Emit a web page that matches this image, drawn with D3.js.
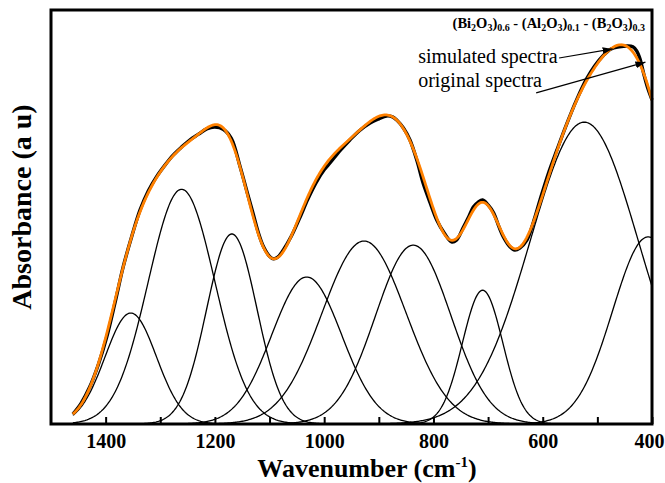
<!DOCTYPE html>
<html>
<head>
<meta charset="utf-8">
<script src="https://cdn.jsdelivr.net/npm/d3@7/dist/d3.min.js"></script>
<style>
  body { margin: 0; background: #ffffff; }
  svg { display: block; font-family: "Liberation Serif", "Times New Roman", serif; }
</style>
</head>
<body>
<div id="chart"></div>
<script>
// fitted gaussian bands (centre in cm-1, height in a.u., sigma in cm-1)
const peakCentres = [1354, 1261, 1169, 1032, 927, 837, 710, 524, 407];
const peakHeights = [0.268, 0.567, 0.459, 0.355, 0.442, 0.432, 0.323, 0.729, 0.452];
const peakSigmas  = [47, 61, 46, 64, 77, 69, 37, 99, 65];

const originalWavenumbers = [1460, 1445, 1429, 1413, 1398, 1383, 1368, 1352, 1337, 1322,
  1307, 1291, 1276, 1261, 1246, 1230, 1215, 1200, 1185, 1170,
  1154, 1140, 1130, 1120, 1111, 1100, 1093, 1085, 1075, 1060,
  1044, 1030, 1014, 1000, 989, 971, 953, 935, 916, 900,
  886, 875, 867, 855, 843, 830, 819, 806, 794, 780,
  767, 758, 745, 735, 727, 718, 710, 700, 690, 680,
  672, 660, 651, 642, 629, 617, 605, 590, 574, 556,
  538, 520, 505, 490, 475, 460, 445, 435, 428, 422,
  415, 408, 400];
const originalAbsorbance = [0.024, 0.050, 0.090, 0.145, 0.210, 0.292, 0.379, 0.454, 0.517, 0.563,
  0.597, 0.626, 0.650, 0.669, 0.686, 0.700, 0.713, 0.717, 0.712, 0.690,
  0.622, 0.555, 0.508, 0.460, 0.428, 0.405, 0.399, 0.403, 0.420, 0.454,
  0.500, 0.543, 0.585, 0.614, 0.631, 0.660, 0.686, 0.709, 0.727, 0.737,
  0.744, 0.742, 0.734, 0.715, 0.686, 0.635, 0.582, 0.534, 0.493, 0.461,
  0.440, 0.444, 0.476, 0.502, 0.524, 0.536, 0.541, 0.529, 0.510, 0.476,
  0.452, 0.428, 0.420, 0.425, 0.444, 0.488, 0.541, 0.604, 0.662, 0.725,
  0.783, 0.833, 0.865, 0.889, 0.906, 0.911, 0.913, 0.911, 0.901, 0.882,
  0.845, 0.812, 0.783];

const xTickValues = [1400, 1300, 1200, 1100, 1000, 900, 800, 700, 600, 500, 400];
const sampleName = [["(Bi", 0], ["2", 1], ["O", 0], ["3", 1], [")", 0], ["0.6", 1],
  [" - (Al", 0], ["2", 1], ["O", 0], ["3", 1], [")", 0], ["0.1", 1],
  [" - (B", 0], ["2", 1], ["O", 0], ["3", 1], [")", 0], ["0.3", 1]];

// set the dimensions of the frame
let width = 665, height = 483;
let frame = {left: 51, top: 10, right: 652, bottom: 424};

let svg = d3.select("#chart")
  .append("svg")
    .attr("width", width)
    .attr("height", height);

// wavenumber runs from high to low
const X_SCALE = d3.scaleLinear()
  .domain([1500, 400])
  .range([frame.left, frame.right]);

const Y_SCALE = d3.scaleLinear()
  .domain([0, 1])
  .range([frame.bottom, frame.top]);

// wavenumber grid on which the fitted bands are evaluated
const grid = d3.range(1460, 399, -2);

function gauss(i, w) {
  let d = w - peakCentres[i];
  return peakHeights[i] * Math.exp(-(d * d) / (2 * peakSigmas[i] * peakSigmas[i]));
}

const line = d3.line()
  .x(d => X_SCALE(d[0]))
  .y(d => Y_SCALE(d[1]));

// component bands
svg.append("g")
  .selectAll("path")
  .data(peakCentres)
  .enter()
  .append("path")
    .attr("d", (c, i) => line(grid.map(w => [w, gauss(i, w)])))
    .attr("fill", "none")
    .attr("stroke", "#000")
    .attr("stroke-width", 1.3);

// original spectrum
let original = originalWavenumbers.map((w, i) => [w, originalAbsorbance[i]]);
svg.append("path")
  .attr("d", line.curve(d3.curveCatmullRom)(original))
  .attr("fill", "none")
  .attr("stroke", "#000")
  .attr("stroke-width", 3.4);

// simulated spectrum = sum of the bands
let simulated = grid.map(w => [w, d3.sum(peakCentres, (c, i) => gauss(i, w))]);
svg.append("path")
  .attr("d", line.curve(d3.curveLinear)(simulated))
  .attr("fill", "none")
  .attr("stroke", "#ff8000")
  .attr("stroke-width", 2.8)
  .attr("stroke-linejoin", "round");

// x axis with inward ticks
let xAxis = svg.append("g")
  .attr("transform", "translate(0," + frame.bottom + ")")
  .call(d3.axisBottom(X_SCALE)
    .tickValues(xTickValues)
    .tickSize(-7)
    .tickPadding(10)
    .tickFormat(d => d % 200 === 0 ? d : ""));
xAxis.select(".domain").remove();
xAxis.selectAll(".tick line").attr("stroke", "#000").attr("stroke-width", 2);
xAxis.selectAll(".tick text")
  .attr("font-family", "Liberation Serif, Times New Roman, serif")
  .attr("font-weight", "bold")
  .attr("font-size", 20)
  .attr("fill", "#000")
  .attr("dx", d => d === 400 ? -3 : 0);

// frame
svg.append("rect")
  .attr("x", frame.left)
  .attr("y", frame.top)
  .attr("width", frame.right - frame.left)
  .attr("height", frame.bottom - frame.top)
  .attr("fill", "none")
  .attr("stroke", "#000")
  .attr("stroke-width", 3);

// axis titles
let xTitle = svg.append("text")
  .attr("x", 367)
  .attr("y", 477)
  .attr("text-anchor", "middle")
  .attr("font-weight", "bold")
  .attr("font-size", 26)
  .text("Wavenumber (cm");
xTitle.append("tspan").attr("font-size", 15).attr("dy", -10).text("-1");
xTitle.append("tspan").attr("dy", 10).text(")");

svg.append("text")
  .attr("transform", "translate(31,207) rotate(-90)")
  .attr("text-anchor", "middle")
  .attr("font-weight", "bold")
  .attr("font-size", 28)
  .text("Absorbance (a u)");

// sample name, top right
let title = svg.append("text")
  .attr("x", 645)
  .attr("y", 28)
  .attr("text-anchor", "end")
  .attr("font-weight", "bold")
  .attr("font-size", 14.5);
let shifted = 0;
sampleName.forEach(s => {
  let dy = (s[1] ? 3 : 0) - shifted;
  shifted = s[1] ? 3 : 0;
  title.append("tspan")
    .attr("dy", dy)
    .attr("font-size", s[1] ? 10 : 14.5)
    .text(s[0]);
});

// arrow annotations
svg.append("defs").append("marker")
  .attr("id", "head")
  .attr("markerUnits", "userSpaceOnUse")
  .attr("markerWidth", 11)
  .attr("markerHeight", 7)
  .attr("refX", 10)
  .attr("refY", 3.5)
  .attr("orient", "auto")
  .append("path")
    .attr("d", "M0,0 L10,3.5 L0,7 Z")
    .attr("fill", "#000");

svg.append("text")
  .attr("x", X_SCALE(828))
  .attr("y", Y_SCALE(0.872))
  .attr("font-size", 20)
  .text("simulated spectra");
svg.append("line")
  .attr("x1", X_SCALE(570)).attr("y1", Y_SCALE(0.884))
  .attr("x2", X_SCALE(472)).attr("y2", Y_SCALE(0.906))
  .attr("stroke", "#000").attr("stroke-width", 1.2)
  .attr("marker-end", "url(#head)");

svg.append("text")
  .attr("x", X_SCALE(828))
  .attr("y", Y_SCALE(0.814))
  .attr("font-size", 20)
  .text("original spectra");
svg.append("line")
  .attr("x1", X_SCALE(612)).attr("y1", Y_SCALE(0.800))
  .attr("x2", X_SCALE(412)).attr("y2", Y_SCALE(0.874))
  .attr("stroke", "#000").attr("stroke-width", 1.2)
  .attr("marker-end", "url(#head)");
</script>
</body>
</html>
